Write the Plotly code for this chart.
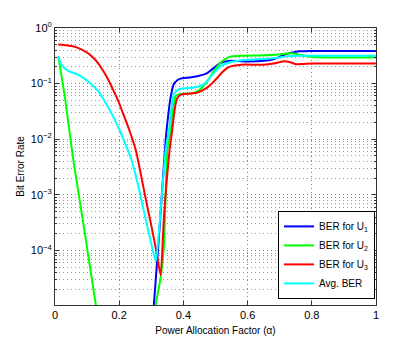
import plotly.graph_objects as go

# (alpha, BER)
alpha_u1 = [0.01, 0.29, 0.308, 0.327, 0.345, 0.352, 0.36, 0.37, 0.381, 0.391, 0.42, 0.443,
            0.474, 0.494, 0.515, 0.547, 0.60, 0.65, 0.68, 0.70, 0.72, 0.74, 0.76, 0.80, 0.90, 1.0]
ber_u1 = [1e-8, 1e-6, 1.07e-5, 3.2e-4, 0.01, 0.025, 0.056, 0.0977, 0.115, 0.123, 0.129, 0.136,
          0.155, 0.19, 0.234, 0.257, 0.251, 0.257, 0.275, 0.302, 0.339, 0.363, 0.38, 0.385, 0.385, 0.385]

alpha_u2 = [0.01, 0.031, 0.057, 0.086, 0.127, 0.14, 0.30, 0.314, 0.329, 0.339, 0.35, 0.36,
            0.368, 0.376, 0.39, 0.433, 0.453, 0.474, 0.494, 0.52, 0.547, 0.58, 0.69, 0.72,
            0.74, 0.77, 0.80, 1.0]
ber_u2 = [0.316, 0.0562, 4.27e-3, 3.7e-4, 1.07e-5, 3.2e-6, 1e-7, 1.07e-5, 3.2e-5, 1.1e-4, 6.5e-3, 0.0145,
          0.0355, 0.0603, 0.0646, 0.069, 0.0794, 0.1096, 0.166, 0.251, 0.309, 0.316, 0.331, 0.347,
          0.351, 0.324, 0.302, 0.295]

alpha_u3 = [0.01, 0.035, 0.062, 0.08, 0.103, 0.12, 0.134, 0.15, 0.166, 0.18, 0.197, 0.212,
            0.228, 0.252, 0.283, 0.298, 0.314, 0.329, 0.339, 0.348, 0.357, 0.365, 0.372, 0.38,
            0.391, 0.42, 0.443, 0.474, 0.49, 0.505, 0.52, 0.536, 0.547, 0.58, 0.65, 0.68,
            0.71, 0.73, 0.75, 0.77, 0.80, 1.0]
ber_u3 = [0.507, 0.490, 0.461, 0.417, 0.351, 0.288, 0.234, 0.170, 0.1175, 0.0794, 0.049, 0.0288,
          0.0166, 6.3e-3, 8.3e-4, 3.2e-4, 1.1e-4, 3.6e-5, 3.7e-4, 1.78e-3, 6.5e-3, 0.0145, 0.0316, 0.0537,
          0.063, 0.066, 0.069, 0.085, 0.102, 0.126, 0.158, 0.19, 0.204, 0.219, 0.219, 0.229,
          0.251, 0.245, 0.224, 0.226, 0.229, 0.229]

alpha_avg = [0.01, 0.02, 0.041, 0.072, 0.103, 0.134, 0.166, 0.197, 0.223, 0.238, 0.26, 0.277,
             0.295, 0.314, 0.327, 0.345, 0.355, 0.37, 0.386, 0.41, 0.433, 0.464, 0.49, 0.515,
             0.547, 0.60, 0.67, 0.70, 0.72, 0.76, 0.80, 1.0]
ber_avg = [0.307, 0.219, 0.170, 0.1445, 0.1096, 0.0741, 0.0372, 0.0166, 7.2e-3, 4.27e-3, 1.41e-3, 5.0e-4,
           1.78e-4, 6.3e-5, 3.7e-4, 6.5e-3, 0.0145, 0.0646, 0.0794, 0.0832, 0.0851, 0.0977, 0.1445, 0.204,
           0.245, 0.269, 0.282, 0.295, 0.309, 0.316, 0.316, 0.316]

names = ["BER for U<sub>1</sub>", "BER for U<sub>2</sub>", "BER for U<sub>3</sub>", "Avg. BER"]
colors = ["#0000ff", "#00ff00", "#ff0000", "#00ffff"]

y_ticks = [1, 1e-1, 1e-2, 1e-3, 1e-4]
y_labels = ["10<sup>0</sup>", "10<sup>−1</sup>", "10<sup>−2</sup>", "10<sup>−3</sup>", "10<sup>−4</sup>"]
x_ticks = [0, 0.2, 0.4, 0.6, 0.8, 1]
x_labels = ["0", "0.2", "0.4", "0.6", "0.8", "1"]
y_minor = [m * d for d in [1e-5, 1e-4, 1e-3, 1e-2, 1e-1] for m in range(2, 10)]

fig = go.Figure()
for xs, ys, nm, c in zip([alpha_u1, alpha_u2, alpha_u3, alpha_avg],
                         [ber_u1, ber_u2, ber_u3, ber_avg], names, colors):
    fig.add_trace(go.Scatter(x=xs, y=ys, name=nm, mode="lines",
                             line=dict(color=c, width=2, shape="spline", smoothing=0.5)))

# page body has an 8px margin, so the figure is drawn 8px smaller
fig.update_layout(
    width=407, height=338,
    margin=dict(l=46, r=39, t=18, b=38),
    paper_bgcolor="white", plot_bgcolor="white",
    font=dict(family="Liberation Sans, Arial", size=11, color="black"),
    showlegend=True,
    legend=dict(x=0.997, xanchor="right", y=0.022, yanchor="bottom",
                bgcolor="white", bordercolor="black", borderwidth=1,
                font=dict(size=10), tracegroupgap=0),
)
fig.update_xaxes(
    range=[0, 1], tickvals=x_ticks, ticktext=x_labels,
    showgrid=True, gridcolor="#888", griddash="1px,3px", gridwidth=1,
    showline=True, linecolor="#333", linewidth=1, mirror="ticks",
    ticks="inside", ticklen=4, tickcolor="#333", zeroline=False,
    title=dict(text="Power Allocation Factor (α)", standoff=6, font=dict(size=10)),
)
fig.update_yaxes(
    type="log", range=[-4.98, 0], tickvals=y_ticks, ticktext=y_labels,
    showgrid=True, gridcolor="#888", griddash="1px,3px", gridwidth=1,
    showline=True, linecolor="#333", linewidth=1, mirror="ticks",
    ticks="inside", ticklen=4, tickcolor="#333", zeroline=False,
    minor=dict(tickmode="array", tickvals=y_minor, showgrid=True, gridcolor="#999",
               griddash="1px,3px", ticks="inside", ticklen=2, tickcolor="#333"),
    title=dict(text="Bit Error Rate", standoff=4, font=dict(size=10)),
)

fig.write_html("out.html")
